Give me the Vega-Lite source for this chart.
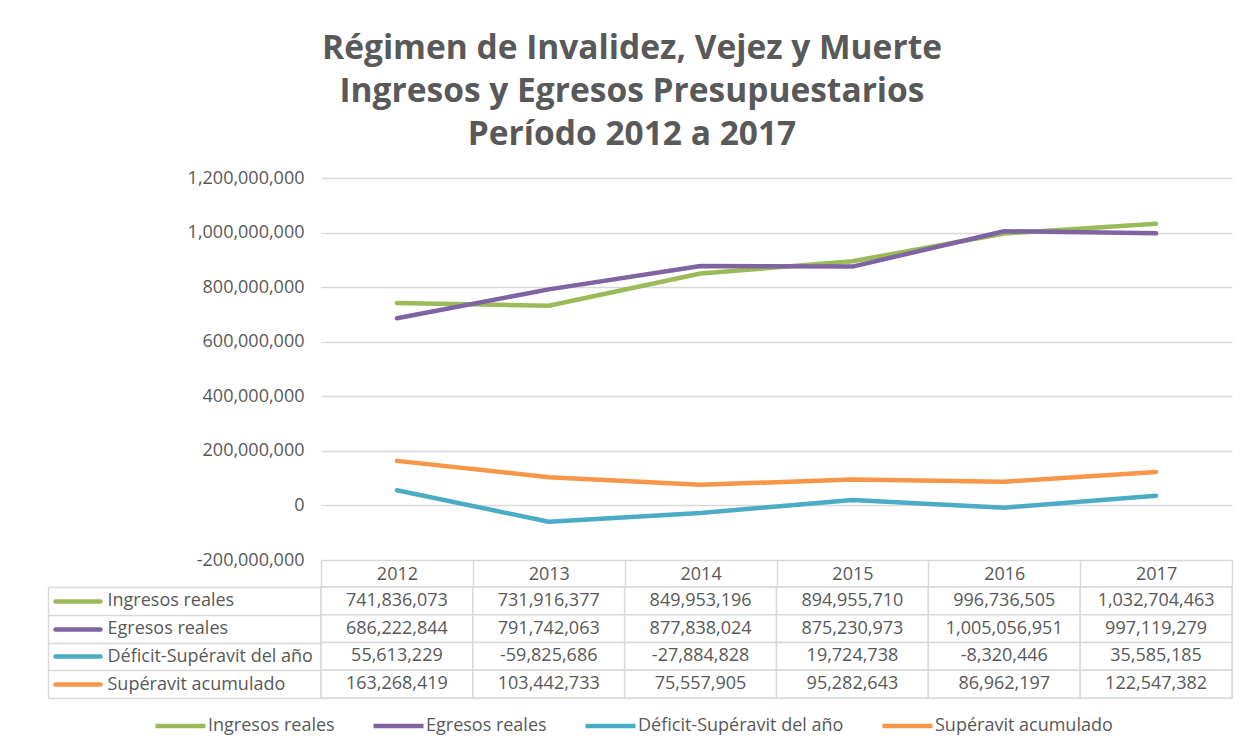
{
  "$schema": "https://vega.github.io/schema/vega-lite/v6.json",
  "padding": {"left": 47, "right": 14, "top": 31, "bottom": 10},
  "background": "white",
  "config": {
    "font": "Open Sans",
    "view": {"stroke": null},
    "locale": {"number": {"decimal": ".", "thousands": ",", "grouping": [3], "currency": ["$", ""], "minus": "-"}}
  },
  "title": {
    "text": ["Régimen de Invalidez, Vejez y Muerte", "Ingresos y Egresos Presupuestarios", "Período 2012 a 2017"],
    "anchor": "middle", "frame": "bounds", "fontSize": 33.5, "fontWeight": "bold", "font": "Open Sans",
    "color": "#595959", "lineHeight": 43, "offset": 17, "dx": -8
  },
  "datasets": {
    "d": [
      {"year": "2012", "series": "Ingresos reales", "value": 741836073},
      {"year": "2013", "series": "Ingresos reales", "value": 731916377},
      {"year": "2014", "series": "Ingresos reales", "value": 849953196},
      {"year": "2015", "series": "Ingresos reales", "value": 894955710},
      {"year": "2016", "series": "Ingresos reales", "value": 996736505},
      {"year": "2017", "series": "Ingresos reales", "value": 1032704463},
      {"year": "2012", "series": "Egresos reales", "value": 686222844},
      {"year": "2013", "series": "Egresos reales", "value": 791742063},
      {"year": "2014", "series": "Egresos reales", "value": 877838024},
      {"year": "2015", "series": "Egresos reales", "value": 875230973},
      {"year": "2016", "series": "Egresos reales", "value": 1005056951},
      {"year": "2017", "series": "Egresos reales", "value": 997119279},
      {"year": "2012", "series": "Déficit-Supéravit del año", "value": 55613229},
      {"year": "2013", "series": "Déficit-Supéravit del año", "value": -59825686},
      {"year": "2014", "series": "Déficit-Supéravit del año", "value": -27884828},
      {"year": "2015", "series": "Déficit-Supéravit del año", "value": 19724738},
      {"year": "2016", "series": "Déficit-Supéravit del año", "value": -8320446},
      {"year": "2017", "series": "Déficit-Supéravit del año", "value": 35585185},
      {"year": "2012", "series": "Supéravit acumulado", "value": 163268419},
      {"year": "2013", "series": "Supéravit acumulado", "value": 103442733},
      {"year": "2014", "series": "Supéravit acumulado", "value": 75557905},
      {"year": "2015", "series": "Supéravit acumulado", "value": 95282643},
      {"year": "2016", "series": "Supéravit acumulado", "value": 86962197},
      {"year": "2017", "series": "Supéravit acumulado", "value": 122547382}
    ]
  },
  "spacing": 27,
  "bounds": "flush",
  "resolve": {"scale": {"x": "shared", "color": "shared"}},
  "vconcat": [
    {
      "width": 911,
      "height": 382,
      "data": {"name": "d"},
      "mark": {"type": "line", "strokeWidth": 4.5, "strokeCap": "round", "strokeJoin": "round"},
      "encoding": {
        "x": {
          "field": "year", "type": "ordinal",
          "scale": {"type": "band", "domain": ["2012", "2013", "2014", "2015", "2016", "2017"], "paddingInner": 0, "paddingOuter": 0},
          "axis": {"orient": "bottom", "title": null, "domain": false, "ticks": true, "tickBand": "extent", "tickSize": 27,
                   "tickColor": "#d9d9d9", "tickWidth": 1.5, "labelPadding": -13, "labelBaseline": "middle", "labelAngle": 0,
                   "labelFont": "Open Sans", "labelFontSize": 18, "labelColor": "#595959"}
        },
        "y": {
          "field": "value", "type": "quantitative",
          "scale": {"domain": [-200000000, 1200000000], "nice": false, "zero": false},
          "axis": {"title": null, "values": [-200000000, 0, 200000000, 400000000, 600000000, 800000000, 1000000000, 1200000000],
                   "format": ",d", "domain": false, "ticks": false, "labelPadding": 17, "grid": true, "gridColor": "#d9d9d9",
                   "gridWidth": 1.3, "labelFont": "Open Sans", "labelFontSize": 18, "labelColor": "#595959"}
        },
        "color": {
          "field": "series", "type": "nominal",
          "scale": {"domain": ["Ingresos reales", "Egresos reales", "Déficit-Supéravit del año", "Supéravit acumulado"],
                    "range": ["#9BBB59", "#8064A2", "#4BACC6", "#F79646"]},
          "legend": {"orient": "none", "legendX": -168, "legendY": 536, "direction": "horizontal", "title": null,
                     "symbolType": "stroke", "symbolSize": 2500, "symbolStrokeWidth": 4.5, "labelFont": "Open Sans",
                     "labelFontSize": 18, "labelColor": "#595959", "columnPadding": 36, "labelOffset": 0, "clipHeight": 24,
                     "labelLimit": 300}
        }
      }
    },
    {
      "width": 911,
      "height": 111,
      "data": {"name": "d"},
      "encoding": {
        "x": {
          "field": "year", "type": "ordinal",
          "scale": {"type": "band", "domain": ["2012", "2013", "2014", "2015", "2016", "2017"], "paddingInner": 0, "paddingOuter": 0},
          "axis": null
        }
      },
      "layer": [
        {
          "mark": {"type": "rect", "fill": "white", "stroke": "#d9d9d9", "strokeWidth": 1.5},
          "encoding": {
            "y": {
              "field": "series", "type": "nominal",
              "scale": {"domain": ["Ingresos reales", "Egresos reales", "Déficit-Supéravit del año", "Supéravit acumulado"], "paddingInner": 0, "paddingOuter": 0},
              "axis": {"orient": "left", "title": null, "domain": false, "tickBand": "extent", "tickSize": 273, "tickColor": "#d9d9d9",
                       "tickWidth": 1.5, "labelAlign": "left", "labelBaseline": "middle", "labelPadding": -59, "labelFont": "Open Sans",
                       "labelFontSize": 18, "labelColor": "#595959", "labelLimit": 300}
            }
          }
        },
        {
          "mark": {"type": "rect", "fill": "white", "stroke": "#d9d9d9", "strokeWidth": 1.5},
          "encoding": {
            "y": {
              "field": "series", "type": "nominal",
              "scale": {"domain": ["Ingresos reales", "Egresos reales", "Déficit-Supéravit del año", "Supéravit acumulado"], "paddingInner": 0, "paddingOuter": 0},
              "axis": {"orient": "left", "offset": 273, "title": null, "domain": true, "domainColor": "#d9d9d9", "domainWidth": 1.5,
                       "ticks": false, "labels": false}
            }
          }
        },
        {
          "mark": {"type": "text", "fontSize": 18, "color": "#595959", "font": "Open Sans"},
          "encoding": {
            "y": {
              "field": "series", "type": "nominal",
              "scale": {"domain": ["Ingresos reales", "Egresos reales", "Déficit-Supéravit del año", "Supéravit acumulado"], "paddingInner": 0, "paddingOuter": 0},
              "axis": {"orient": "left", "offset": 221, "title": null, "domain": false, "labels": false, "ticks": true,
                       "tickSize": 45, "tickWidth": 4.5, "tickCap": "round",
                       "tickColor": {"condition": [
                         {"test": "datum.value === 'Ingresos reales'", "value": "#9BBB59"},
                         {"test": "datum.value === 'Egresos reales'", "value": "#8064A2"},
                         {"test": "datum.value === 'Déficit-Supéravit del año'", "value": "#4BACC6"}
                       ], "value": "#F79646"}}
            },
            "text": {"field": "value", "type": "quantitative", "format": ",d"}
          }
        }
      ],
      "resolve": {"scale": {"y": "independent"}, "axis": {"y": "independent"}}
    }
  ]
}
